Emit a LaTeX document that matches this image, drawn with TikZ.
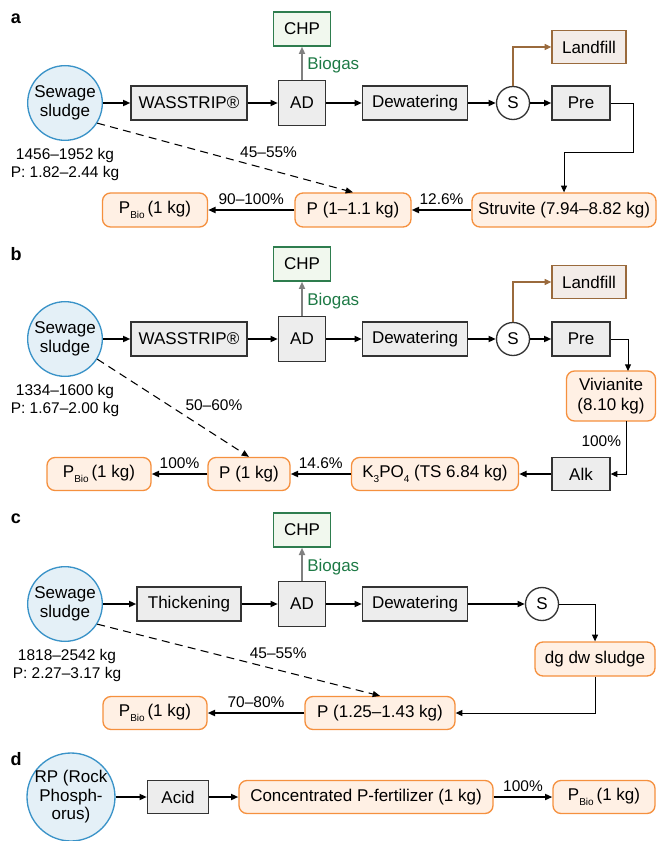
\documentclass[tikz,border=0pt]{standalone}
\usepackage{fontspec}
\setmainfont{Liberation Sans}
\usetikzlibrary{arrows.meta}

\definecolor{srcblue}{HTML}{3A93C8}
\definecolor{srcfill}{HTML}{E4F0F7}
\definecolor{prodorange}{HTML}{F5903E}
\definecolor{prodfill}{HTML}{FFF0E4}
\definecolor{chpgreen}{HTML}{2E7D4E}
\definecolor{chpfill}{HTML}{F1F8EE}
\definecolor{gastext}{HTML}{1E7A46}
\definecolor{wastebrown}{HTML}{9A6A3C}
\definecolor{landfillfill}{HTML}{F3ECE8}

\newcommand{\lowsub}[1]{\raisebox{-3.2pt}{\fontsize{7.5}{8}\selectfont #1}}

\begin{document}
\begin{tikzpicture}[x=0.75pt, y=-0.75pt,
    every node/.style={font=\fontsize{12.75}{15}\selectfont},
    proc/.style={draw=black!80, fill=black!7, line width=1pt, minimum height=25.5pt, inner sep=0pt},
    prod/.style={draw=prodorange, fill=prodfill, line width=1pt, rounded corners=6pt, minimum height=25.5pt, inner sep=0pt, align=center},
    source/.style={circle, draw=srcblue, fill=srcfill, line width=1pt, minimum size=56pt, inner sep=0pt, align=center, font=\fontsize{12.75}{14.25}\selectfont},
    chp/.style={draw=chpgreen, fill=chpfill, line width=1pt, minimum width=42.75pt, minimum height=25.5pt, inner sep=0pt},
    landfill/.style={draw=wastebrown, fill=landfillfill, line width=1pt, minimum width=55.5pt, minimum height=24.75pt, inner sep=0pt},
    split/.style={circle, draw=black!80, fill=white, line width=1pt, minimum size=24.75pt, inner sep=0pt},
    mass/.style={align=center, font=\fontsize{11.6}{13.5}\selectfont},
    pct/.style={font=\fontsize{11.6}{13.5}\selectfont},
    panel/.style={font=\fontsize{13.5}{16}\selectfont\bfseries},
    gaslabel/.style={text=gastext, anchor=west, inner sep=0pt},
    flow/.style={-{Triangle[length=5.5pt, width=4.5pt]}, line width=1.4pt},
    thinflow/.style={-{Triangle[length=5pt, width=4.5pt]}, line width=0.7pt},
    gas/.style={-{Triangle[length=5.5pt, width=4.5pt]}, line width=1.5pt, draw=black!50},
    waste/.style={-{Triangle[length=5pt, width=4.5pt]}, line width=0.8pt, draw=wastebrown},
    direct/.style={-{Triangle[length=5.5pt, width=4.5pt]}, line width=0.8pt, dash pattern=on 6pt off 4pt}
]
    \useasboundingbox (0,0) rectangle (657,841);

    % Panel a
    \node[panel] (labA) at (16,19) {a};
    \node[source] (sludgeA) at (65,103) {Sewage\\sludge};
    \node[proc, minimum width=87pt] (wasA) at (189,103) {WASSTRIP®};
    \node[proc, minimum width=35.25pt, minimum height=33.75pt] (adA) at (302,103) {AD};
    \node[chp] (chpA) at (302,29) {CHP};
    \node[gaslabel] (gasA) at (307,65) {Biogas};
    \node[proc, minimum width=78.75pt] (dewA) at (415,103) {Dewatering};
    \node[split] (sA) at (513,103) {S};
    \node[landfill] (landA) at (589,47) {Landfill};
    \node[proc, minimum width=43.5pt] (preA) at (581,103) {Pre};
    \node[prod, minimum width=138pt] (struA) at (564,210) {Struvite (7.94–8.82 kg)};
    \node[prod, minimum width=87pt] (pA) at (353,210) {P (1–1.1 kg)};
    \node[prod, minimum width=78.75pt] (pbioA) at (155,210) {P\lowsub{Bio}\,(1 kg)};
    \node[mass] (massA) at (65,165) {1456–1952 kg\\P: 1.82–2.44 kg};
    \coordinate (bendA) at (633,152);

    \draw[flow] (sludgeA) -- (wasA);
    \draw[flow] (wasA) -- (adA);
    \draw[flow] (adA) -- (dewA);
    \draw[flow] (dewA) -- (sA);
    \draw[flow] (sA) -- (preA);
    \draw[gas] (adA) -- (chpA);
    \draw[waste] (sA.north) |- (landA.west);
    \draw[thinflow] (preA.east) -| (bendA) -| (struA.north);
    \draw[flow] (struA) -- node[pct, above] {12.6\%} (pA);
    \draw[flow] (pA) -- node[pct, above] {90–100\%} (pbioA);
    \draw[direct] (sludgeA.-32) -- node[pct, pos=0.67, above=5pt] {45–55\%} (pA.north);

    % Panel b
    \node[panel] (labB) at (16,254) {b};
    \node[source] (sludgeB) at (65,339) {Sewage\\sludge};
    \node[proc, minimum width=87pt] (wasB) at (189,339) {WASSTRIP®};
    \node[proc, minimum width=35.25pt, minimum height=33.75pt] (adB) at (302,339) {AD};
    \node[chp] (chpB) at (302,264) {CHP};
    \node[gaslabel] (gasB) at (307,301) {Biogas};
    \node[proc, minimum width=78.75pt] (dewB) at (415,339) {Dewatering};
    \node[split] (sB) at (513,339) {S};
    \node[landfill] (landB) at (589,282) {Landfill};
    \node[proc, minimum width=43.5pt] (preB) at (581,339) {Pre};
    \node[prod, minimum width=66.75pt, minimum height=37.5pt] (vivB) at (611,396) {Vivianite\\(8.10 kg)};
    \node[proc, minimum width=43.5pt, minimum height=24.75pt] (alkB) at (581,474) {Alk};
    \node[prod, minimum width=125.25pt, minimum height=24.75pt] (kB) at (435,474) {K\lowsub{3}PO\lowsub{4} (TS 6.84 kg)};
    \node[prod, minimum width=61.5pt, minimum height=24.75pt] (pB) at (249,474) {P (1 kg)};
    \node[prod, minimum width=78pt, minimum height=24.75pt] (pbioB) at (99,474) {P\lowsub{Bio}\,(1 kg)};
    \node[mass] (massB) at (65,400) {1334–1600 kg\\P: 1.67–2.00 kg};
    \coordinate (vivinB) at (628,371);
    \coordinate (vivoutB) at (626,421);

    \draw[flow] (sludgeB) -- (wasB);
    \draw[flow] (wasB) -- (adB);
    \draw[flow] (adB) -- (dewB);
    \draw[flow] (dewB) -- (sB);
    \draw[flow] (sB) -- (preB);
    \draw[gas] (adB) -- (chpB);
    \draw[waste] (sB.north) |- (landB.west);
    \draw[thinflow] (preB.east) -| (vivinB);
    \draw[thinflow] (vivoutB) |- node[pct, left, pos=0.19] {100\%} (alkB.east);
    \draw[flow] (alkB) -- (kB);
    \draw[flow] (kB) -- node[pct, above] {14.6\%} (pB);
    \draw[flow] (pB) -- node[pct, above] {100\%} (pbioB);
    \draw[direct] (sludgeB.-32) -- node[pct, pos=0.47, right=9pt] {50–60\%} (pB.north);

    % Panel c
    \node[panel] (labC) at (16,519) {c};
    \node[source] (sludgeC) at (65,604) {Sewage\\sludge};
    \node[proc, minimum width=78pt] (thickC) at (189,604) {Thickening};
    \node[proc, minimum width=35.25pt, minimum height=33.75pt] (adC) at (302,604) {AD};
    \node[chp] (chpC) at (302,530) {CHP};
    \node[gaslabel] (gasC) at (307,567) {Biogas};
    \node[proc, minimum width=78.75pt] (dewC) at (415,604) {Dewatering};
    \node[split] (sC) at (542,604) {S};
    \node[prod, minimum width=90pt] (dgC) at (595,659) {dg dw sludge};
    \node[prod, minimum width=112.5pt, minimum height=24.75pt] (pC) at (380,713) {P (1.25–1.43 kg)};
    \node[prod, minimum width=78pt, minimum height=24.75pt] (pbioC) at (155,713) {P\lowsub{Bio}\,(1 kg)};
    \node[mass] (massC) at (67,665) {1818–2542 kg\\P: 2.27–3.17 kg};

    \draw[flow] (sludgeC) -- (thickC);
    \draw[flow] (thickC) -- (adC);
    \draw[flow] (adC) -- (dewC);
    \draw[flow] (dewC) -- (sC);
    \draw[gas] (adC) -- (chpC);
    \draw[thinflow] (sC.east) -| (dgC.north);
    \draw[thinflow] (dgC.south) |- (pC.east);
    \draw[flow] (pC) -- node[pct, above] {70–80\%} (pbioC);
    \draw[direct] (sludgeC.-32) -- node[pct, pos=0.64, above=5pt] {45–55\%} (pC.north);

    % Panel d
    \node[panel] (labD) at (16,759) {d};
    \node[source, minimum size=66pt, inner sep=-4pt, font=\fontsize{12.75}{13.9}\selectfont] (rpD) at (71,797) {RP (Rock\\Phosph-\\orus)};
    \node[proc, minimum width=45.75pt, minimum height=24.75pt] (acidD) at (178,797) {Acid};
    \node[prod, minimum width=190.5pt, minimum height=24.75pt] (concD) at (366,797) {Concentrated P-fertilizer (1 kg)};
    \node[prod, minimum width=76.5pt, minimum height=24.75pt] (pbioD) at (604,797) {P\lowsub{Bio}\,(1 kg)};

    \draw[flow] (rpD) -- (acidD);
    \draw[flow] (acidD) -- (concD);
    \draw[flow] (concD) -- node[pct, above] {100\%} (pbioD);
\end{tikzpicture}
\end{document}
